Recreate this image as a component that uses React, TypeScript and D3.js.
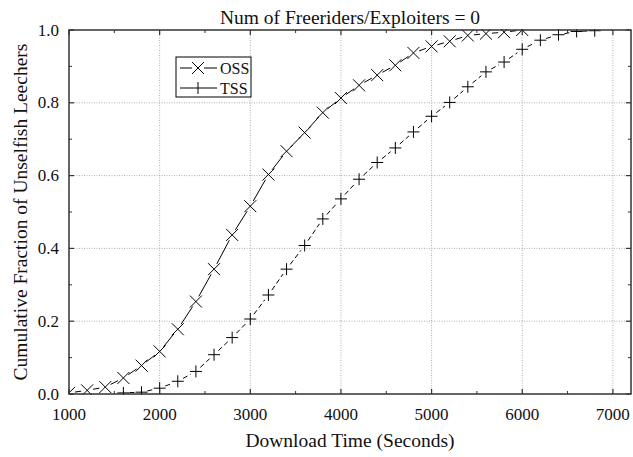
import React from "react";
import * as d3 from "d3";

const ossTimes = [1000, 1200, 1400, 1600, 1800, 2000, 2200, 2400, 2600, 2800, 3000, 3200, 3400, 3600, 3800, 4000, 4200, 4400, 4600, 4800, 5000, 5200, 5400, 5600, 5800, 6000];
const ossValues = [0.003, 0.01, 0.019, 0.044, 0.078, 0.117, 0.178, 0.254, 0.343, 0.437, 0.516, 0.603, 0.667, 0.718, 0.773, 0.813, 0.848, 0.876, 0.903, 0.937, 0.955, 0.969, 0.985, 0.99, 0.994, 1.0];
const tssTimes = [1600, 1800, 2000, 2200, 2400, 2600, 2800, 3000, 3200, 3400, 3600, 3800, 4000, 4200, 4400, 4600, 4800, 5000, 5200, 5400, 5600, 5800, 6000, 6200, 6400, 6600, 6800];
const tssValues = [0.003, 0.005, 0.016, 0.035, 0.062, 0.108, 0.155, 0.206, 0.272, 0.343, 0.408, 0.481, 0.536, 0.59, 0.636, 0.676, 0.72, 0.763, 0.801, 0.844, 0.885, 0.912, 0.947, 0.972, 0.987, 0.996, 0.998];
const xTicks = [1000, 2000, 3000, 4000, 5000, 6000, 7000];
const xMinor = [1500, 2500, 3500, 4500, 5500, 6500];
const yTicks = [0, 0.2, 0.4, 0.6, 0.8, 1.0];
const yMinor = [0.1, 0.3, 0.5, 0.7, 0.9];
const seriesNames = ["OSS", "TSS"];
const titleText = "Num of Freeriders/Exploiters = 0";
const xLabel = "Download Time (Seconds)";
const yLabel = "Cumulative Fraction of Unselfish Leechers";

const W = 633, H = 457;
const L = 69, R = 631, T = 30, B = 394;
const FONT = "'Liberation Serif', 'Times New Roman', serif";

function gapSegments(pts: [number, number][], gap: number) {
  const segs: [number, number, number, number][] = [];
  for (let i = 0; i < pts.length - 1; i++) {
    const [x1, y1] = pts[i];
    const [x2, y2] = pts[i + 1];
    const dx = x2 - x1, dy = y2 - y1;
    const len = Math.hypot(dx, dy);
    if (len <= 2 * gap + 1) continue;
    const ux = dx / len, uy = dy / len;
    segs.push([x1 + ux * gap, y1 + uy * gap, x2 - ux * gap, y2 - uy * gap]);
  }
  return segs;
}

export default function App() {
  const x = d3.scaleLinear().domain([1000, 7200]).range([L, R]);
  const y = d3.scaleLinear().domain([0, 1]).range([B, T]);
  const oss: [number, number][] = ossTimes.map((t, i) => [x(t), y(ossValues[i])]);
  const tss: [number, number][] = tssTimes.map((t, i) => [x(t), y(tssValues[i])]);
  const m = 6;
  const axisColor = "#333";
  return (
    <svg width={W} height={H} style={{ position: "absolute", left: 0, top: 0, background: "#fff" }} fontFamily={FONT}>
      <defs>
        <clipPath id="plotclip">
          <rect x={L} y={T - 1} width={R - L} height={B - T + 2} />
        </clipPath>
      </defs>
      <rect x={0} y={0} width={W} height={H} fill="#fff" />
      {/* grid */}
      {xTicks.slice(1).map((t) => (
        <line key={"gx" + t} x1={x(t)} x2={x(t)} y1={T} y2={B} stroke="#999" strokeWidth={0.8} strokeDasharray="1,1.5" />
      ))}
      {yTicks.slice(1, -1).map((t) => (
        <line key={"gy" + t} x1={L} x2={R} y1={y(t)} y2={y(t)} stroke="#999" strokeWidth={0.8} strokeDasharray="1,1.5" />
      ))}
      {/* series */}
      <g clipPath="url(#plotclip)">
        {gapSegments(oss, m).map((s, i) => (
          <line key={"os" + i} x1={s[0]} y1={s[1]} x2={s[2]} y2={s[3]} stroke="#000" strokeWidth={1} />
        ))}
        {gapSegments(tss, m).map((s, i) => (
          <line key={"ts" + i} x1={s[0]} y1={s[1]} x2={s[2]} y2={s[3]} stroke="#000" strokeWidth={1} strokeDasharray="5,3" />
        ))}
        {oss.map(([px, py], i) => (
          <path key={"om" + i} d={`M${px - m},${py - m}L${px + m},${py + m}M${px - m},${py + m}L${px + m},${py - m}`} stroke="#000" strokeWidth={1} fill="none" />
        ))}
        {tss.map(([px, py], i) => (
          <path key={"tm" + i} d={`M${px - m},${py}L${px + m},${py}M${px},${py - m}L${px},${py + m}`} stroke="#000" strokeWidth={1} fill="none" />
        ))}
      </g>
      {/* ticks */}
      {xTicks.map((t) => (
        <g key={"xt" + t}>
          <line x1={x(t)} x2={x(t)} y1={B} y2={B - 5} stroke={axisColor} strokeWidth={1.2} />
          <line x1={x(t)} x2={x(t)} y1={T} y2={T + 5} stroke={axisColor} strokeWidth={1.2} />
          <text x={x(t)} y={420} fontSize={17} textAnchor="middle" fill="#111">{t}</text>
        </g>
      ))}
      {xMinor.map((t) => (
        <g key={"xm" + t}>
          <line x1={x(t)} x2={x(t)} y1={B} y2={B - 3} stroke={axisColor} strokeWidth={1} />
          <line x1={x(t)} x2={x(t)} y1={T} y2={T + 3} stroke={axisColor} strokeWidth={1} />
        </g>
      ))}
      {yTicks.map((t) => (
        <g key={"yt" + t}>
          <line x1={L} x2={L + 5} y1={y(t)} y2={y(t)} stroke={axisColor} strokeWidth={1.2} />
          <line x1={R} x2={R - 5} y1={y(t)} y2={y(t)} stroke={axisColor} strokeWidth={1.2} />
          <text x={59} y={y(t) + 5.5} fontSize={17} textAnchor="end" fill="#111">{t.toFixed(1)}</text>
        </g>
      ))}
      {yMinor.map((t) => (
        <g key={"ym" + t}>
          <line x1={L} x2={L + 3} y1={y(t)} y2={y(t)} stroke={axisColor} strokeWidth={1} />
          <line x1={R} x2={R - 3} y1={y(t)} y2={y(t)} stroke={axisColor} strokeWidth={1} />
        </g>
      ))}
      {/* frame */}
      <rect x={L} y={T} width={R - L} height={B - T} fill="none" stroke={axisColor} strokeWidth={1.5} />
      {/* title & labels */}
      <text x={(L + R) / 2} y={24} fontSize={19.5} textAnchor="middle" fill="#111">{titleText}</text>
      <text x={(L + R) / 2} y={447} fontSize={19.5} textAnchor="middle" fill="#111">{xLabel}</text>
      <text transform={`translate(27,${(T + B) / 2}) rotate(-90)`} fontSize={19.5} textAnchor="middle" fill="#111">{yLabel}</text>
      {/* legend */}
      <rect x={176} y={57} width={75} height={40} fill="#fff" stroke="#000" strokeWidth={1} />
      {seriesNames.map((name, i) => {
        const ly = 68 + i * 20;
        const cx = 198;
        return (
          <g key={name}>
            <line x1={180} x2={cx - 6} y1={ly} y2={ly} stroke="#000" strokeWidth={1} />
            <line x1={cx + 6} x2={217} y1={ly} y2={ly} stroke="#000" strokeWidth={1} />
            {i === 0 ? (
              <path d={`M${cx - 6},${ly - 6}L${cx + 6},${ly + 6}M${cx - 6},${ly + 6}L${cx + 6},${ly - 6}`} stroke="#000" strokeWidth={1} fill="none" />
            ) : (
              <path d={`M${cx - 6},${ly}L${cx + 6},${ly}M${cx},${ly - 6}L${cx},${ly + 6}`} stroke="#000" strokeWidth={1} fill="none" />
            )}
            <text x={220} y={ly + 5.5} fontSize={16} fill="#111">{name}</text>
          </g>
        );
      })}
    </svg>
  );
}
